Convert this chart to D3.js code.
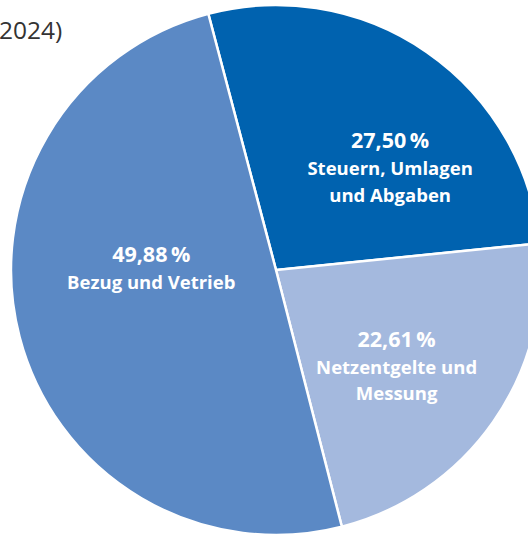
<!DOCTYPE html>
<html>
<head>
<meta charset="utf-8">
<script src="https://cdn.jsdelivr.net/npm/d3@7"></script>
<style>
  html, body { margin: 0; padding: 0; background: #fff; overflow: hidden; }
  svg { display: block; }
</style>
</head>
<body>
<svg></svg>
<script>
var categories = ["Steuern, Umlagen und Abgaben", "Netzentgelte und Messung", "Bezug und Vetrieb"];
var shares = [27.50, 22.61, 49.88];
var percentLabels = ["27,50\u2009%", "22,61\u2009%", "49,88\u2009%"];
var labelLines = [["Steuern, Umlagen", "und Abgaben"], ["Netzentgelte und", "Messung"], ["Bezug und Vetrieb"]];
var colors = ["#0062af", "#a4b9de", "#5b89c5"];

var w = 528, h = 534,
    cx = 276, cy = 270,
    r = 265,
    rad = Math.PI / 180;

// where each label block sits (angle in degrees, distance from centre)
var labelPos = [
  {a: 43.1, d: 167},
  {a: 122.5, d: 143},
  {a: 273.7, d: 125}
];

var svg = d3.select("svg")
  .attr("width", w)
  .attr("height", h);

svg.append("text")
  .attr("x", -1)
  .attr("y", 39)
  .attr("font-family", "'Open Sans', sans-serif")
  .attr("font-size", 24.5)
  .attr("fill", "#333")
  .text("2024)");

var pie = d3.pie()
  .sort(null)
  .startAngle(-14.8 * rad)
  .endAngle(345.2 * rad)
  .value(function(d){ return d; });

var arc = d3.arc()
  .innerRadius(0)
  .outerRadius(r);

var g = svg.append("g")
  .attr("transform", "translate(" + cx + "," + cy + ")");

g.selectAll("path")
  .data(pie(shares))
  .join("path")
  .attr("d", arc)
  .attr("fill", function(d, i){ return colors[i]; })
  .attr("stroke", "#fff")
  .attr("stroke-width", 2.5);

var labels = g.selectAll("g.label")
  .data(categories)
  .join("g")
  .attr("class", "label")
  .attr("transform", function(d, i){
    var p = d3.pointRadial(labelPos[i].a * rad, labelPos[i].d);
    return "translate(" + p[0] + "," + p[1] + ")";
  })
  .attr("text-anchor", "middle")
  .attr("font-family", "'Open Sans', sans-serif")
  .attr("font-weight", "bold")
  .attr("fill", "#fff");

labels.append("text")
  .attr("font-size", 21.5)
  .text(function(d, i){ return percentLabels[i]; });

labels.each(function(d, i){
  d3.select(this).selectAll("text.line")
    .data(labelLines[i])
    .join("text")
    .attr("class", "line")
    .attr("y", function(t, j){ return 27 + j * 26.5; })
    .attr("font-size", 18.5)
    .text(function(t){ return t; });
});
</script>
</body>
</html>
